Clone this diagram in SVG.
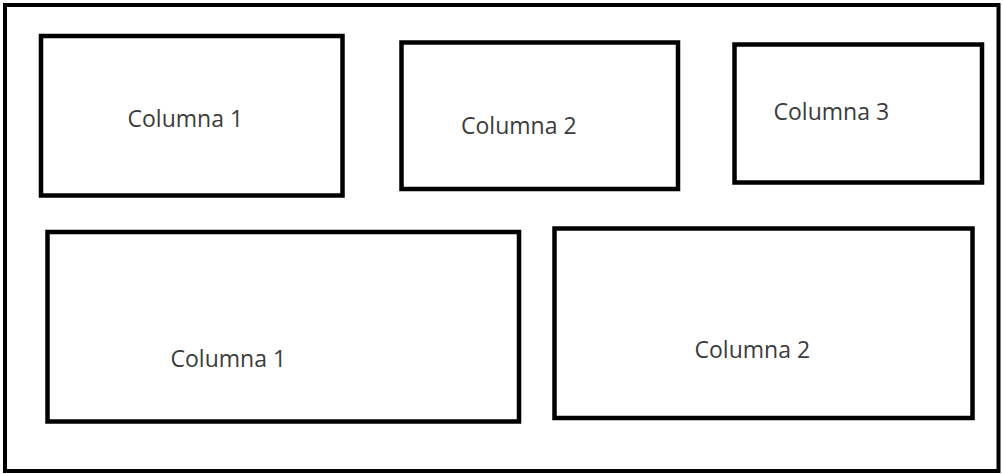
<svg xmlns="http://www.w3.org/2000/svg" width="1004" height="474" viewBox="0 0 1004 474">
<style>
.box{fill:#fff;stroke:#000;stroke-width:4.5}
.frame{fill:#fff;stroke:#000;stroke-width:4}
.lbl{font-family:"Open Sans","Liberation Sans",sans-serif;font-size:23px;fill:#3c3c3c}
</style>
<rect width="1004" height="474" fill="#fff"/>
<g id="frame"><rect class="frame" x="5" y="5" width="993.5" height="466"/></g>
<g id="top-col1"><rect class="box" x="41" y="36" width="301.5" height="159.5"/><text class="lbl" x="127.5" y="127">Columna 1</text></g>
<g id="top-col2"><rect class="box" x="401.5" y="42.5" width="276.5" height="146.5"/><text class="lbl" x="461" y="133.5">Columna 2</text></g>
<g id="top-col3"><rect class="box" x="734.5" y="44.5" width="247.5" height="138"/><text class="lbl" x="773.5" y="120">Columna 3</text></g>
<g id="bottom-col1"><rect class="box" x="47.5" y="232" width="471.5" height="189.5"/><text class="lbl" x="170.5" y="366.5">Columna 1</text></g>
<g id="bottom-col2"><rect class="box" x="554.5" y="228.5" width="418" height="189.5"/><text class="lbl" x="694.5" y="358">Columna 2</text></g>
<g id="connectors"/>
</svg>
